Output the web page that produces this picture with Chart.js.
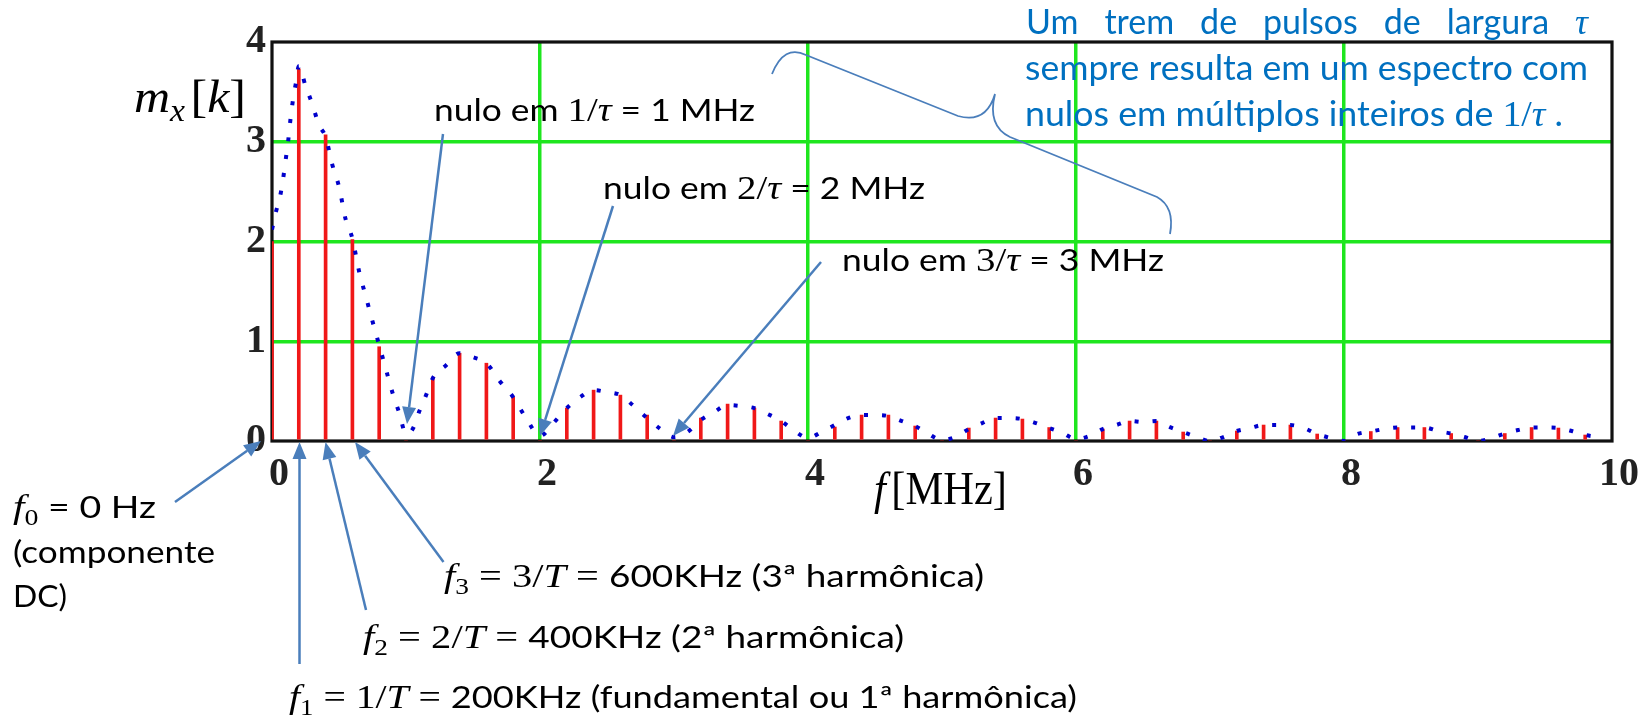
<!DOCTYPE html>
<html><head><meta charset="utf-8">
<script src="https://cdn.jsdelivr.net/npm/chart.js@4/dist/chart.umd.min.js"></script>
<style>html,body{margin:0;padding:0;background:#fff;overflow:hidden}#wrap{position:relative;width:1649px;height:715px}</style>
</head><body><div id="wrap"><canvas id="c" width="1649" height="715"></canvas></div>
<script>
// ---- data ----
const harmonicFreqs = [0,0.2,0.4,0.6,0.8,1.0,1.2,1.4,1.6,1.8,2.0,2.2,2.4,2.6,2.8,3.0,3.2,3.4,3.6,3.8,4.0,4.2,4.4,4.6,4.8,5.0,5.2,5.4,5.6,5.8,6.0,6.2,6.4,6.6,6.8,7.0,7.2,7.4,7.6,7.8,8.0,8.2,8.4,8.6,8.8,9.0,9.2,9.4,9.6,9.8];
const harmonicMags  = [2.0,3.73,3.07,2.02,0.945,0,0.64,0.88,0.78,0.44,0,0.33,0.51,0.46,0.26,0,0.23,0.37,0.33,0.2,0,0.14,0.26,0.26,0.15,0,0.13,0.23,0.22,0.135,0,0.12,0.2,0.2,0.09,0,0.1,0.16,0.16,0.07,0,0.095,0.135,0.135,0.075,0,0.075,0.135,0.13,0.06];
const envelopeFreqs = [0,0.03,0.06,0.08,0.10,0.12,0.14,0.16,0.18,0.20,0.25,0.30,0.35,0.40,0.45,0.50,0.55,0.60,0.65,0.70,0.75,0.80,0.85,0.90,0.95,1.00,1.05,1.10,1.15,1.20,1.30,1.40,1.50,1.60,1.70,1.80,1.90,2.00,2.10,2.20,2.30,2.40,2.50,2.60,2.70,2.80,2.90,3.00,3.10,3.20,3.30,3.40,3.50,3.60,3.70,3.80,3.90,4.00,4.10,4.20,4.30,4.40,4.50,4.60,4.70,4.80,4.90,5.00,5.10,5.20,5.30,5.40,5.50,5.60,5.70,5.80,5.90,6.00,6.10,6.20,6.30,6.40,6.50,6.60,6.70,6.80,6.90,7.00,7.10,7.20,7.30,7.40,7.50,7.60,7.70,7.80,7.90,8.00,8.10,8.20,8.30,8.40,8.50,8.60,8.70,8.80,8.90,9.00,9.10,9.20,9.30,9.40,9.50,9.60,9.70,9.80,9.90];
const envelopeMags  = [2.12,2.3,2.45,2.6,2.8,3.0,3.25,3.45,3.6,3.76,3.56,3.38,3.17,3.05,2.77,2.55,2.22,2.03,1.7,1.45,1.2,0.96,0.72,0.48,0.28,0.07,0.12,0.3,0.46,0.63,0.76,0.88,0.84,0.78,0.6,0.44,0.22,0.05,0.18,0.33,0.44,0.51,0.49,0.46,0.35,0.23,0.12,0.04,0.09,0.21,0.29,0.36,0.35,0.33,0.27,0.2,0.1,0.03,0.09,0.16,0.23,0.26,0.26,0.25,0.2,0.15,0.07,0.01,0.04,0.12,0.18,0.23,0.23,0.22,0.18,0.13,0.08,0.02,0.05,0.12,0.16,0.2,0.19,0.2,0.14,0.09,0.04,0.0,0.04,0.1,0.13,0.16,0.16,0.16,0.13,0.07,0.03,0.0,0.07,0.095,0.12,0.135,0.135,0.135,0.1,0.075,0.04,0.0,0.03,0.075,0.11,0.135,0.135,0.13,0.1,0.06,0.04];
const xTickValues = [0,2,4,6,8,10];
const yTickValues = [0,1,2,3,4];

// ---- styles ----
const GRID_GREEN = '#1ee61e';
const ARROW_BLUE = '#4a7ebb';
const NOTE_BLUE = '#0070c0';
const SANS = 'Lato';
const SERIF = '"Liberation Serif"';

function drawRuns(ctx, runs, x, y, targetW, color) {
  let total = 0;
  runs.forEach(r => { ctx.font = r.f; r.w = ctx.measureText(r.t).width + (r.sp || 0); total += r.w; });
  const sx = targetW ? targetW / total : 1;
  ctx.save();
  ctx.translate(x, y); ctx.scale(sx, 1);
  ctx.fillStyle = color; ctx.textBaseline = 'alphabetic'; ctx.textAlign = 'left';
  let cx = 0;
  runs.forEach(r => { ctx.font = r.f; ctx.fillText(r.t, cx, r.dy || 0); cx += r.w; });
  ctx.restore();
}
function drawJustified(ctx, words, x0, x1, y, color) {
  let total = 0;
  words.forEach(r => { ctx.font = r.f; r.w = ctx.measureText(r.t).width; total += r.w; });
  const gap = (x1 - x0 - total) / (words.length - 1);
  ctx.save(); ctx.fillStyle = color; ctx.textBaseline = 'alphabetic';
  let cx = x0;
  words.forEach(r => { ctx.font = r.f; ctx.fillText(r.t, cx, y); cx += r.w + gap; });
  ctx.restore();
}
function arrow(ctx, x0, y0, x1, y1) {
  const a = Math.atan2(y1 - y0, x1 - x0), L = 17, W = 7;
  const bx = x1 - L * Math.cos(a), by = y1 - L * Math.sin(a);
  ctx.save(); ctx.strokeStyle = ARROW_BLUE; ctx.fillStyle = ARROW_BLUE; ctx.lineWidth = 2.5;
  ctx.beginPath(); ctx.moveTo(x0, y0); ctx.lineTo(bx, by); ctx.stroke();
  ctx.beginPath(); ctx.moveTo(x1, y1);
  ctx.lineTo(bx + W * Math.sin(a), by - W * Math.cos(a));
  ctx.lineTo(bx - W * Math.sin(a), by + W * Math.cos(a));
  ctx.closePath(); ctx.fill(); ctx.restore();
}

const frame = {
  id: 'frame',
  beforeDatasetsDraw(chart) {
    const {ctx, chartArea: a} = chart;
    ctx.save(); ctx.strokeStyle = '#111'; ctx.lineWidth = 3.2;
    ctx.strokeRect(a.left, a.top, a.right - a.left, a.bottom - a.top);
    ctx.restore();
  }
};

const notes = {
  id: 'notes',
  afterDraw(chart) {
    const ctx = chart.ctx;
    const s28 = '31px ' + SANS, m32 = '34px ' + SERIF, mi32 = 'italic 34px ' + SERIF, sub = '23px ' + SERIF;
    // axis titles
    drawRuns(ctx, [{t:'m', f:'italic 46px ' + SERIF}, {t:'x', f:'italic 31px ' + SERIF, dy:9, sp:5},
                   {t:'[', f:'46px ' + SERIF}, {t:'k', f:'italic 46px ' + SERIF}, {t:']', f:'46px ' + SERIF}],
             134, 112, 112, '#000');
    drawRuns(ctx, [{t:'f', f:'italic 46px ' + SERIF, sp:6}, {t:'[MHz]', f:'46px ' + SERIF}], 874, 504, 133, '#000');
    // null labels
    const nul = (n) => [{t:'nulo em ', f:s28}, {t:n + '/', f:m32}, {t:'τ', f:mi32}, {t:' = ' + n + ' MHz', f:s28}];
    drawRuns(ctx, nul('1'), 434, 121, 321, '#000');
    drawRuns(ctx, nul('2'), 603, 199, 322, '#000');
    drawRuns(ctx, nul('3'), 842, 271, 322, '#000');
    // blue note
    const b31 = '34px ' + SANS;
    drawJustified(ctx, ['Um','trem','de','pulsos','de','largura'].map(t => ({t, f:b31})).concat([{t:'τ', f:'italic 36px ' + SERIF}]),
                  1026, 1588, 34, NOTE_BLUE);
    drawRuns(ctx, [{t:'sempre resulta em um espectro com', f:b31}], 1025, 80, 563, NOTE_BLUE);
    drawRuns(ctx, [{t:'nulos em múltiplos inteiros de ', f:b31}, {t:'1/', f:'36px ' + SERIF}, {t:'τ', f:'italic 36px ' + SERIF}, {t:' .', f:b31}],
             1025, 126, 538, NOTE_BLUE);
    // harmonic labels
    drawRuns(ctx, [{t:'f', f:mi32}, {t:'0', f:sub, dy:7}, {t:' = 0 Hz', f:s28}], 13, 518, 143, '#000');
    drawRuns(ctx, [{t:'(componente', f:s28}], 13, 563, 202, '#000');
    drawRuns(ctx, [{t:'DC)', f:s28}], 13, 607, 54, '#000');
    const hl = (n, rest) => [{t:'f', f:mi32}, {t:n, f:sub, dy:7}, {t:' = ' + n + '/', f:m32}, {t:'T', f:mi32}, {t:' = ', f:m32}, {t:rest, f:s28}];
    drawRuns(ctx, hl('3', '600KHz (3ª harmônica)'), 444, 587, 540, '#000');
    drawRuns(ctx, hl('2', '400KHz (2ª harmônica)'), 363, 648, 541, '#000');
    drawRuns(ctx, hl('1', '200KHz (fundamental ou 1ª harmônica)'), 289, 708, 788, '#000');
    // arrows
    [[443,134,407,424],[613,206,540,436],[821,262,673,436],[175,502,261,441],[299.5,664,299.5,442],[366,610,325.5,442],[443.5,562,355,442]]
      .forEach(p => arrow(ctx, ...p));
    // brace
    ctx.save(); ctx.strokeStyle = ARROW_BLUE; ctx.lineWidth = 1.8;
    ctx.beginPath();
    ctx.moveTo(772, 74); ctx.quadraticCurveTo(784, 44, 806, 55); ctx.lineTo(958, 116);
    ctx.quadraticCurveTo(986, 124, 995, 94);
    ctx.moveTo(995, 94); ctx.quadraticCurveTo(987, 126, 1010, 137); ctx.lineTo(1157, 197);
    ctx.quadraticCurveTo(1175, 207, 1170, 234);
    ctx.stroke(); ctx.restore();
  }
};

const gridColor = (ends) => (c) => (ends.includes(c.tick && c.tick.value) ? 'rgba(0,0,0,0)' : GRID_GREEN);
const tickFont = { family: 'Liberation Serif', size: 40, weight: 'bold' };

new Chart(document.getElementById('c'), {
  type: 'line',
  data: {
    datasets: [
      { type: 'line', label: 'envelope', data: envelopeFreqs.map((x, i) => ({x, y: envelopeMags[i]})),
        borderColor: '#0000cc', borderWidth: 4, borderDash: [4, 14], borderCapStyle: 'butt',
        pointRadius: 0, fill: false, cubicInterpolationMode: 'monotone', order: 0 },
      { type: 'bar', label: 'harmonics', data: harmonicFreqs.map((x, i) => ({x, y: harmonicMags[i]})),
        backgroundColor: '#f01818', borderWidth: 0, barThickness: 3, order: 1 }
    ]
  },
  options: {
    responsive: false, animation: false,
    layout: { padding: { top: 42, right: 37, left: 0, bottom: 0 } },
    plugins: { legend: { display: false }, tooltip: { enabled: false } },
    scales: {
      x: { type: 'linear', min: 0, max: 10, offset: false,
        afterBuildTicks: s => { s.ticks = xTickValues.map(value => ({value})); },
        afterFit: s => { s.height = 274; },
        grid: { color: gridColor([0, 10]), lineWidth: 3.5, drawTicks: false, offset: false },
        border: { display: false },
        ticks: { font: tickFont, color: '#222', padding: 10, labelOffset: 7, maxRotation: 0,
                 callback: v => String(v) } },
      y: { type: 'linear', min: 0, max: 4,
        afterBuildTicks: s => { s.ticks = yTickValues.map(value => ({value})); },
        afterFit: s => { s.width = 272; },
        grid: { color: gridColor([0, 4]), lineWidth: 3.5, drawTicks: false },
        border: { display: false },
        ticks: { font: tickFont, color: '#222', padding: 6, callback: v => String(v) } }
    }
  },
  plugins: [frame, notes]
});
</script></body></html>
